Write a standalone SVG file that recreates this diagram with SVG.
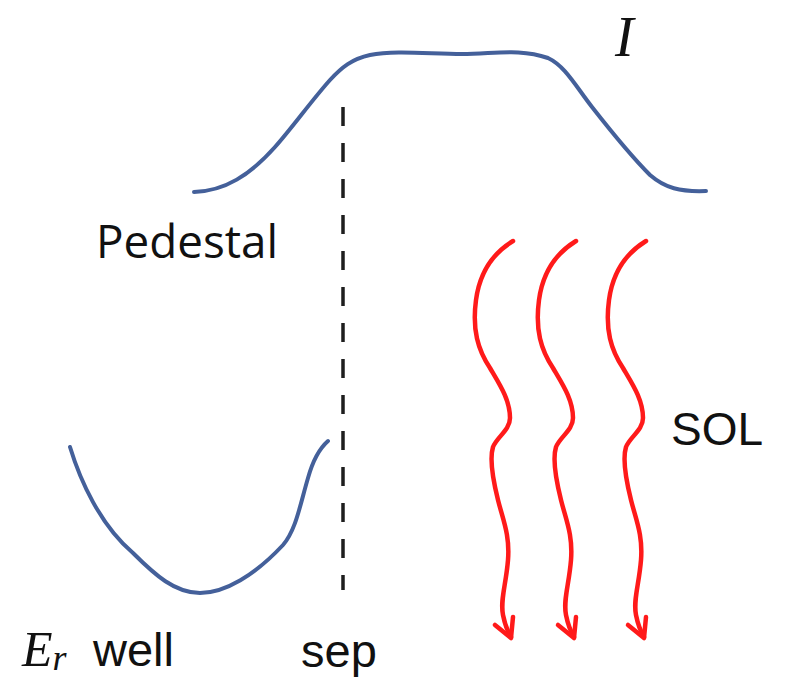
<svg xmlns="http://www.w3.org/2000/svg" xmlns:xlink="http://www.w3.org/1999/xlink" width="795" height="677" viewBox="0 0 795 677">
  <style>
    .curve { fill: none; stroke: #44609a; stroke-width: 4; stroke-linecap: round; stroke-linejoin: round; }
    .wave { fill: none; stroke: #ff1a1a; stroke-width: 4.5; stroke-linecap: round; stroke-linejoin: round; }
    .sep { stroke: #1e1e1e; stroke-width: 3.5; stroke-dasharray: 19 17; fill: none; }
    .sans { font-family: "Liberation Sans", Arial, sans-serif; fill: #111; }
    .ped { font-family: "Open Sans", "Noto Sans", sans-serif; fill: #111; }
    .math { font-family: "Liberation Serif", "DejaVu Serif", serif; font-style: italic; fill: #111; }
  </style>
  <defs>
    <g id="wave">
      <path class="wave" d="M513,241 C495,252 480,270 476,300 C472,330 478,350 490,368 C500,385 510,400 510,418 C510,430 497,437 493,447 C489,460 493,480 498,500 C503,520 510,535 508,560 C506,585 500,600 503,615 C505,625 508,632 511,637"/>
      <polyline class="wave" points="495,625 511,638 513,617"/>
    </g>
  </defs>
  <rect width="795" height="677" fill="#ffffff"/>

  <g id="intensity-profile">
    <path class="curve" d="M194,192 C225,191 250,175 275,147 C292,128 312,100 330,80 C342,67 352,59 370,55 C395,50 430,54 462,54 C494,54 520,48 548,58 C565,66 575,85 592,107 C610,130 630,155 650,175 C665,188 680,192 706,191"/>
    <text class="math" x="615" y="56" font-size="56">I</text>
  </g>

  <g id="separatrix">
    <line class="sep" x1="343" y1="107" x2="343" y2="590"/>
    <text class="sans" x="301" y="667" font-size="47">sep</text>
  </g>

  <g id="pedestal">
    <text class="ped" x="96" y="258" font-size="46" textLength="182" lengthAdjust="spacingAndGlyphs">Pedestal</text>
  </g>

  <g id="er-well">
    <path class="curve" d="M70,447 C80,480 100,525 133,553 C155,575 175,593 200,593 C225,593 255,575 283,545 C296,530 300,505 308,478 C313,460 320,448 328,441"/>
    <text x="22" y="666"><tspan class="math" font-size="50">E</tspan><tspan class="math" font-size="36" dy="4">r</tspan><tspan class="sans" font-size="47" dy="-4" x="93">well</tspan></text>
  </g>

  <g id="sol">
    <text class="sans" x="671" y="445" font-size="46">SOL</text>
  </g>

  <g id="connectors">
    <use xlink:href="#wave"/>
    <use xlink:href="#wave" transform="translate(63,0)"/>
    <use xlink:href="#wave" transform="translate(133,0)"/>
  </g>
</svg>
